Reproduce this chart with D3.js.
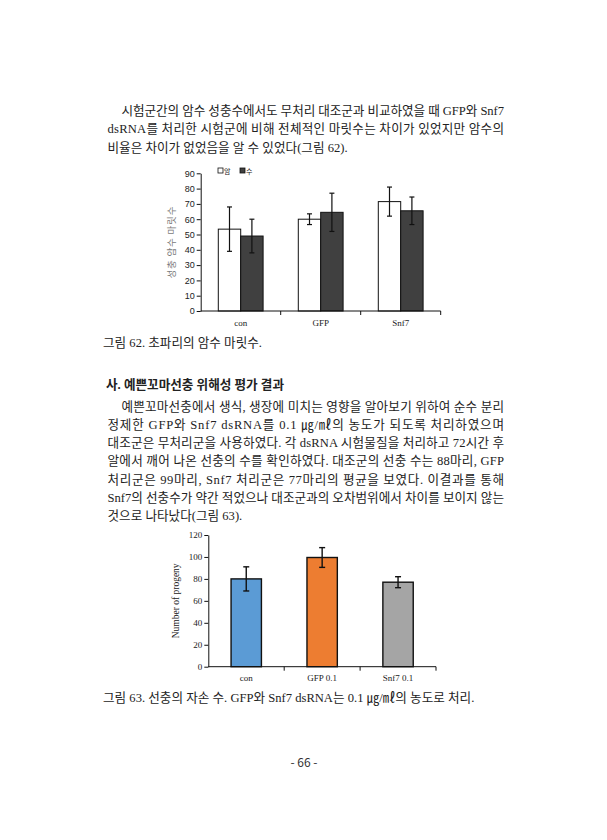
<!DOCTYPE html>
<html>
<head>
<meta charset="utf-8">
<script src="https://cdn.jsdelivr.net/npm/d3@7"></script>
<style>
  html, body { margin: 0; padding: 0; background: #fff; }
  svg { display: block; }
  .body-text { font-size: 12.6px; fill: #222; }
  .ko { font-family: "Noto Sans CJK KR", sans-serif; }
  .lat { font-family: "Liberation Serif", "Times New Roman", serif; }
</style>
</head>
<body>
<script>
// chart 62: adult flies by sex
const flyGroups   = ['con', 'GFP', 'Snf7'];
const flySexes    = ['암', '수'];
const flyFemale   = [53.5, 60, 71.5];
const flyMale     = [49, 64.5, 65.5];
const flyFemaleSd = [14.5, 3.5, 9.5];
const flyMaleSd   = [11, 12.5, 9];
const flyTicks    = [0, 10, 20, 30, 40, 50, 60, 70, 80, 90];

// chart 63: nematode progeny
const wormGroups = ['con', 'GFP 0.1', 'Snf7 0.1'];
const wormMeans  = [80, 99.5, 77];
const wormSd     = [11, 9, 5];
const wormTicks  = [0, 20, 40, 60, 80, 100, 120];

const WIDTH = 607, HEIGHT = 840;

const svg = d3.select('body').append('svg')
  .attr('width', WIDTH)
  .attr('height', HEIGHT);
svg.append('rect').attr('width', WIDTH).attr('height', HEIGHT).attr('fill', '#fff');

// ---- page text (justified lines via textLength) ----
const LEFT = 107.5, RIGHT = 504;
const HANGUL = /([\uAC00-\uD7A3\u3131-\u318E\u3300-\u33FF]+)/;
function textLine(str, x, y, opts = {}) {
  const t = svg.append('text')
    .attr('class', 'body-text')
    .attr('x', x)
    .attr('y', y);
  // split into hangul / latin runs so digits keep the serif face
  str.split(HANGUL).filter(s => s.length).forEach(s => {
    t.append('tspan')
      .attr('class', HANGUL.test(s) ? 'ko' : 'lat')
      .text(s);
  });
  if (opts.justify) t.attr('textLength', RIGHT - x).attr('lengthAdjust', 'spacing');
  if (opts.bold) t.style('font-weight', 'bold');
  return t;
}

textLine('시험군간의 암수 성충수에서도 무처리 대조군과 비교하였을 때 GFP와 Snf7', 121.5, 114.5, {justify: true});
textLine('dsRNA를 처리한 시험군에 비해 전체적인 마릿수는 차이가 있었지만 암수의', LEFT, 133, {justify: true});
textLine('비율은 차이가 없었음을 알 수 있었다(그림 62).', LEFT, 151.5);

textLine('그림 62. 초파리의 암수 마릿수.', 103, 346.5);

textLine('사. 예쁜꼬마선충 위해성 평가 결과', 106, 388.5, {bold: true});
const para2 = [
  '예쁜꼬마선충에서 생식, 생장에 미치는 영향을 알아보기 위하여 순수 분리',
  '정제한 GFP와 Snf7 dsRNA를 0.1 ㎍/㎖의 농도가 되도록 처리하였으며',
  '대조군은 무처리군을 사용하였다. 각 dsRNA 시험물질을 처리하고 72시간 후',
  '알에서 깨어 나온 선충의 수를 확인하였다. 대조군의 선충 수는 88마리, GFP',
  '처리군은 99마리, Snf7 처리군은 77마리의 평균을 보였다. 이결과를 통해',
  'Snf7의 선충수가 약간 적었으나 대조군과의 오차범위에서 차이를 보이지 않는',
  '것으로 나타났다(그림 63).'
];
para2.forEach((s, i) => {
  const last = i === para2.length - 1;
  textLine(s, i === 0 ? 121.5 : LEFT, 410.5 + i * 18.3, {justify: !last});
});

textLine('그림 63. 선충의 자손 수. GFP와 Snf7 dsRNA는 0.1 ㎍/㎖의 농도로 처리.', 103, 702);

svg.append('text')
  .attr('x', 304).attr('y', 767)
  .attr('text-anchor', 'middle')
  .style('font-family', '"Noto Sans CJK KR", sans-serif')
  .style('font-size', '12px')
  .style('fill', '#333')
  .text('- 66 -');

// ---- chart 62 ----
{
  const x0 = d3.scaleBand().domain(flyGroups).range([200.7, 440.7]).padding(0);
  const x1 = d3.scaleBand().domain(flySexes)
    .range([x0.bandwidth() * 0.22, x0.bandwidth() * 0.78]);
  const y = d3.scaleLinear().domain([0, 90]).range([311, 173.3]);

  const rows = flyGroups.map((g, i) => ({
    group: g,
    values: [
      {sex: '암', v: flyFemale[i], sd: flyFemaleSd[i], fill: '#ffffff'},
      {sex: '수', v: flyMale[i],   sd: flyMaleSd[i],   fill: '#404040'}
    ]
  }));

  const g = svg.append('g');
  const grp = g.selectAll('.grp').data(rows).enter().append('g')
    .attr('transform', d => `translate(${x0(d.group)},0)`);

  grp.selectAll('rect').data(d => d.values).enter().append('rect')
    .attr('x', d => x1(d.sex))
    .attr('y', d => y(d.v))
    .attr('width', x1.bandwidth())
    .attr('height', d => y(0) - y(d.v))
    .attr('fill', d => d.fill)
    .attr('stroke', '#111')
    .attr('stroke-width', 1);

  const eb = grp.selectAll('.eb').data(d => d.values).enter().append('g')
    .attr('stroke', '#111').attr('stroke-width', 1.2);
  eb.append('line')
    .attr('x1', d => x1(d.sex) + x1.bandwidth() / 2)
    .attr('x2', d => x1(d.sex) + x1.bandwidth() / 2)
    .attr('y1', d => y(d.v - d.sd)).attr('y2', d => y(d.v + d.sd));
  [-1, 1].forEach(s => eb.append('line')
    .attr('x1', d => x1(d.sex) + x1.bandwidth() / 2 - 2.5)
    .attr('x2', d => x1(d.sex) + x1.bandwidth() / 2 + 2.5)
    .attr('y1', d => y(d.v + s * d.sd)).attr('y2', d => y(d.v + s * d.sd)));

  const yAxis = g.append('g')
    .attr('transform', `translate(${x0.range()[0]},0)`)
    .call(d3.axisLeft(y).tickValues(flyTicks).tickSize(4).tickSizeOuter(0));
  yAxis.select('.domain').attr('stroke', '#111');
  yAxis.selectAll('.tick line').attr('stroke', '#111');
  yAxis.selectAll('.tick text')
    .style('font-family', '"Liberation Sans", Arial, sans-serif')
    .style('font-size', '9px').attr('fill', '#222').attr('x', -6);

  const xAxis = g.append('g').attr('transform', `translate(0,${y(0)})`);
  xAxis.append('line')
    .attr('x1', x0.range()[0]).attr('x2', x0.range()[1])
    .attr('stroke', '#111');
  xAxis.selectAll('.tk').data(flyGroups.slice(1).concat(['end'])).enter().append('line')
    .attr('x1', d => d === 'end' ? x0.range()[1] : x0(d))
    .attr('x2', d => d === 'end' ? x0.range()[1] : x0(d))
    .attr('y1', 0).attr('y2', 4).attr('stroke', '#111');
  xAxis.selectAll('.lbl').data(flyGroups).enter().append('text')
    .attr('x', d => x0(d) + x0.bandwidth() / 2)
    .attr('y', 15)
    .attr('text-anchor', 'middle')
    .style('font-family', '"Liberation Serif", serif')
    .style('font-size', '9px').attr('fill', '#222')
    .text(d => d);

  svg.append('text')
    .attr('transform', `translate(175,${y(45)}) rotate(-90)`)
    .attr('text-anchor', 'middle')
    .style('font-family', '"Noto Sans CJK KR", sans-serif')
    .style('font-size', '9.5px').style('letter-spacing', '0.8px')
    .attr('fill', '#7a7a7a')
    .text('성충 암수 마릿수');

  // legend
  const leg = svg.append('g').attr('transform', 'translate(218,168)');
  const items = [{k: '암', fill: '#fff', x: 0}, {k: '수', fill: '#404040', x: 22}];
  items.forEach(it => {
    leg.append('rect').attr('x', it.x).attr('y', 0).attr('width', 5).attr('height', 5)
      .attr('fill', it.fill).attr('stroke', '#111').attr('stroke-width', 0.8);
    leg.append('text').attr('x', it.x + 6).attr('y', 5.5)
      .style('font-family', '"Noto Sans CJK KR", sans-serif')
      .style('font-size', '7px').attr('fill', '#222').text(it.k);
  });
}

// ---- chart 63 ----
{
  const x = d3.scaleBand().domain(wormGroups).range([208.3, 436])
    .paddingInner(0.6).paddingOuter(0.3);
  const step = x.step();
  const y = d3.scaleLinear().domain([0, 120]).range([666.7, 535]);
  const colors = ['#5b9bd5', '#ed7d31', '#a5a5a5'];

  const g = svg.append('g');
  g.selectAll('rect.bar').data(wormGroups).enter().append('rect')
    .attr('class', 'bar')
    .attr('x', d => x(d))
    .attr('y', (d, i) => y(wormMeans[i]))
    .attr('width', x.bandwidth())
    .attr('height', (d, i) => y(0) - y(wormMeans[i]))
    .attr('fill', (d, i) => colors[i])
    .attr('stroke', '#111').attr('stroke-width', 1.4);

  const eb = g.selectAll('.eb').data(wormGroups).enter().append('g')
    .attr('stroke', '#111').attr('stroke-width', 1.4);
  const cx = d => x(d) + x.bandwidth() / 2;
  eb.append('line')
    .attr('x1', cx).attr('x2', cx)
    .attr('y1', (d, i) => y(wormMeans[i] - wormSd[i]))
    .attr('y2', (d, i) => y(wormMeans[i] + wormSd[i]));
  [-1, 1].forEach(s => eb.append('line')
    .attr('x1', d => cx(d) - 3).attr('x2', d => cx(d) + 3)
    .attr('y1', (d, i) => y(wormMeans[i] + s * wormSd[i]))
    .attr('y2', (d, i) => y(wormMeans[i] + s * wormSd[i])));

  const yAxis = g.append('g')
    .attr('transform', `translate(${x.range()[0]},0)`)
    .call(d3.axisLeft(y).tickValues(wormTicks).tickSize(4).tickSizeOuter(0));
  yAxis.select('.domain').attr('stroke', '#111');
  yAxis.selectAll('.tick line').attr('stroke', '#111');
  yAxis.selectAll('.tick text')
    .style('font-family', '"Liberation Serif", serif')
    .style('font-size', '9px').attr('fill', '#222').attr('x', -6);

  const x0 = x.range()[0];
  const xAxis = g.append('g').attr('transform', `translate(0,${y(0)})`);
  xAxis.append('line')
    .attr('x1', x0).attr('x2', x.range()[1]).attr('stroke', '#111');
  xAxis.selectAll('.tk').data(d3.range(1, wormGroups.length + 1)).enter().append('line')
    .attr('x1', i => x0 + i * step).attr('x2', i => x0 + i * step)
    .attr('y1', 0).attr('y2', 4).attr('stroke', '#111');
  xAxis.selectAll('.lbl').data(wormGroups).enter().append('text')
    .attr('x', cx).attr('y', 14)
    .attr('text-anchor', 'middle')
    .style('font-family', '"Liberation Serif", serif')
    .style('font-size', '9px').attr('fill', '#222')
    .text(d => d);

  svg.append('text')
    .attr('transform', `translate(179,${y(60)}) rotate(-90)`)
    .attr('text-anchor', 'middle')
    .style('font-family', '"Liberation Serif", serif')
    .style('font-size', '9.5px').attr('fill', '#222')
    .text('Number of progeny');
}
</script>
</body>
</html>
